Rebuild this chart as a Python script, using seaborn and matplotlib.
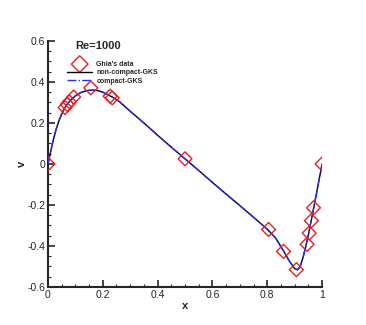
import matplotlib
matplotlib.use("Agg")
import matplotlib.pyplot as plt
import seaborn as sns
import pandas as pd
from matplotlib.ticker import MultipleLocator

ghia_x = [1.0000, 0.9688, 0.9609, 0.9531, 0.9453, 0.9063, 0.8594, 0.8047,
          0.5000, 0.2344, 0.2266, 0.1563, 0.0938, 0.0781, 0.0703, 0.0625, 0.0000]
ghia_v = [0.00000, -0.21388, -0.27669, -0.33714, -0.39188, -0.51550, -0.42665, -0.31966,
          0.02526, 0.32235, 0.33075, 0.37095, 0.32627, 0.30353, 0.29012, 0.27485, 0.00000]

line_x = [0.0, 0.01, 0.02, 0.03, 0.04, 0.05, 0.06, 0.07, 0.08, 0.10, 0.12, 0.14, 0.16,
          0.18, 0.20, 0.23, 0.26, 0.30, 0.35, 0.40, 0.45, 0.50, 0.55, 0.60, 0.65, 0.70,
          0.75, 0.80, 0.83, 0.86, 0.88, 0.90, 0.91, 0.92, 0.93, 0.94, 0.95, 0.96, 0.97,
          0.98, 0.99, 1.0]
noncompact_v = [0.0, 0.06, 0.12, 0.17, 0.21, 0.243, 0.27, 0.29, 0.307, 0.332, 0.348, 0.357,
                0.36, 0.358, 0.35, 0.33, 0.305, 0.257, 0.2, 0.14, 0.082, 0.025, -0.032,
                -0.09, -0.147, -0.203, -0.26, -0.318, -0.36, -0.425, -0.472, -0.51, -0.516,
                -0.5, -0.458, -0.405, -0.345, -0.278, -0.21, -0.14, -0.07, 0.0]
compact_v = [0.0, 0.061, 0.121, 0.171, 0.211, 0.244, 0.271, 0.291, 0.308, 0.333, 0.349,
             0.358, 0.361, 0.359, 0.351, 0.331, 0.305, 0.257, 0.2, 0.14, 0.082, 0.025,
             -0.032, -0.09, -0.147, -0.203, -0.26, -0.318, -0.361, -0.426, -0.473, -0.511,
             -0.517, -0.501, -0.459, -0.406, -0.346, -0.279, -0.211, -0.141, -0.071, 0.0]

sns.set_style("ticks")
plt.rcParams['font.family'] = ['Liberation Sans', 'DejaVu Sans']

fig = plt.figure(figsize=(3.66, 3.25), dpi=100)
ax = fig.add_axes([0.131, 0.117, 0.749, 0.757])

df_nc = pd.DataFrame({"x": line_x, "v": noncompact_v})
df_c = pd.DataFrame({"x": line_x, "v": compact_v})
df_g = pd.DataFrame({"x": ghia_x, "v": ghia_v})

sns.scatterplot(data=df_g, x="x", y="v", ax=ax, marker="D", s=50,
                facecolor="none", edgecolor="#e8201c", linewidth=1.0,
                label="Ghia's data", zorder=4)
sns.lineplot(data=df_nc, x="x", y="v", ax=ax, color="black", linewidth=1.0,
             sort=False, label="non-compact-GKS", zorder=2)
sns.lineplot(data=df_c, x="x", y="v", ax=ax, color="#2b2bff", linewidth=1.0,
             linestyle="-.", sort=False, label="compact-GKS", zorder=3)

ax.set_xlim(0, 1)
ax.set_ylim(-0.6, 0.6)
ax.xaxis.set_minor_locator(MultipleLocator(0.05))
ax.yaxis.set_minor_locator(MultipleLocator(0.05))
ax.set_xticks([0, 0.2, 0.4, 0.6, 0.8, 1.0])
ax.set_xticklabels(["0", "0.2", "0.4", "0.6", "0.8", "1"])
ax.set_yticks([-0.6, -0.4, -0.2, 0, 0.2, 0.4, 0.6])
ax.set_yticklabels(["-0.6", "-0.4", "-0.2", "0", "0.2", "0.4", "0.6"])
ax.tick_params(which="major", direction="in", length=5, width=1.2, labelsize=7.5, pad=2)
ax.tick_params(which="minor", direction="in", length=2.5, width=0.8)
for s in ["top", "right"]:
    ax.spines[s].set_visible(False)
for s in ["left", "bottom"]:
    ax.spines[s].set_linewidth(1.5)

ax.set_xlabel("x", fontsize=8, fontweight="bold", labelpad=1)
ax.set_ylabel("v", fontsize=8, fontweight="bold", labelpad=0)

ax.text(0.1, 0.98, "Re=1000", fontsize=8, fontweight="bold", ha="left", va="center",
        transform=ax.transAxes)
leg = ax.legend(loc="upper left", bbox_to_anchor=(0.06, 0.93), frameon=False,
                prop={"size": 5, "weight": "bold"}, handlelength=3.6,
                labelspacing=0.2, borderaxespad=0, handletextpad=0.6,
                markerscale=1.2)

fig.savefig("out.png", dpi=100)
